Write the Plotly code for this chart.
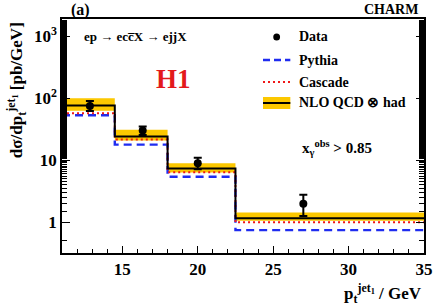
import plotly.graph_objects as go

# ---- data ----
bin_edges = [11.0, 14.5, 18.0, 22.5, 35.0]
data_x = [12.85, 16.35, 20.0, 27.0]
data_y = [75.0, 30.0, 8.9, 1.97]
data_err_up = [15.0, 5.0, 2.0, 0.8]
data_err_dn = [13.0, 4.5, 1.8, 0.72]
pythia = [53.0, 17.8, 5.4, 0.74]
cascade = [57.0, 21.5, 6.4, 0.99]
nlo = [76.0, 24.0, 7.3, 1.15]
nlo_up = [100.0, 31.0, 8.9, 1.42]
nlo_dn = [63.0, 20.7, 6.3, 1.05]
ytick_vals = [1, 10, 100, 1000]
ytick_text = ["1", "10", "10<sup>2</sup>", "10<sup>3</sup>"]
xtick_vals = [15, 20, 25, 30, 35]

FONT = "Liberation Serif"
BLUE_DASH = "8px,5px"
RED_DOT = "2px,3px"


def step(vals):
    return list(vals) + [vals[-1]]


fig = go.Figure()

# NLO uncertainty band
fig.add_trace(go.Scatter(x=bin_edges, y=step(nlo_dn), mode="lines", line=dict(width=0, shape="hv"),
                         showlegend=False, hoverinfo="skip"))
fig.add_trace(go.Scatter(x=bin_edges, y=step(nlo_up), mode="lines", line=dict(width=0, shape="hv"),
                         fill="tonexty", fillcolor="#fcc800", showlegend=False, hoverinfo="skip"))
# Pythia
fig.add_trace(go.Scatter(x=bin_edges, y=step(pythia), mode="lines",
                         line=dict(color="#1f2cf0", width=2.4, dash=BLUE_DASH, shape="hv"), showlegend=False))
# Cascade
fig.add_trace(go.Scatter(x=bin_edges, y=step(cascade), mode="lines",
                         line=dict(color="#f01818", width=2, dash=RED_DOT, shape="hv"), showlegend=False))
# NLO central
fig.add_trace(go.Scatter(x=bin_edges, y=step(nlo), mode="lines",
                         line=dict(color="black", width=2, shape="hv"), showlegend=False))
# Data
fig.add_trace(go.Scatter(x=data_x, y=data_y, mode="markers",
                         marker=dict(color="black", size=8),
                         error_y=dict(type="data", symmetric=False, array=data_err_up, arrayminus=data_err_dn,
                                      color="black", thickness=2, width=4),
                         showlegend=False))

L, R, T, B = 62, 433, 19, 253
W, H = 442, 307


def px(x):
    return (x - L) / (R - L)


def py(y):
    return (B - y) / (B - T)


tfont = dict(family=FONT, size=14, color="black", weight="bold")
ann = []
shapes = []

# legend
leg_rows = [("Data", 37), ("Pythia", 60), ("Cascade", 82), ("NLO QCD \u2297 had", 103)]
for label, yy in leg_rows:
    ann.append(dict(x=px(303), y=py(yy), xref="paper", yref="paper", text=label, showarrow=False,
                    xanchor="left", yanchor="middle", font=tfont))
# data marker in legend
shapes.append(dict(type="circle", xref="paper", yref="paper", x0=px(278.5), x1=px(285.5), y0=py(40.5), y1=py(33.5),
                   fillcolor="black", line=dict(width=0)))
shapes.append(dict(type="line", xref="paper", yref="paper", x0=px(268), x1=px(296), y0=py(60), y1=py(60),
                   line=dict(color="#1f2cf0", width=2.4, dash="7px,4px")))
shapes.append(dict(type="line", xref="paper", yref="paper", x0=px(268), x1=px(296), y0=py(82), y1=py(82),
                   line=dict(color="#f01818", width=2, dash=RED_DOT)))
shapes.append(dict(type="rect", xref="paper", yref="paper", x0=px(268), x1=px(296), y0=py(109), y1=py(97),
                   fillcolor="#fcc800", line=dict(width=0)))
shapes.append(dict(type="line", xref="paper", yref="paper", x0=px(268), x1=px(296), y0=py(103), y1=py(103),
                   line=dict(color="black", width=2)))

# texts
ann.append(dict(x=px(81), y=py(10), xref="paper", yref="paper", text="(a)", showarrow=False,
                xanchor="center", yanchor="middle", font=dict(family=FONT, size=16, color="black", weight="bold")))
ann.append(dict(x=px(429), y=py(10), xref="paper", yref="paper", text="CHARM", showarrow=False,
                xanchor="right", yanchor="middle", font=dict(family=FONT, size=14, color="black", weight="bold")))
ann.append(dict(x=px(82), y=py(37), xref="paper", yref="paper",
                text="ep \u2192 ecc\u0305X \u2192 ejjX", showarrow=False,
                xanchor="left", yanchor="middle", font=dict(family=FONT, size=13, color="black", weight="bold")))
ann.append(dict(x=px(176), y=py(79), xref="paper", yref="paper", text="H1", showarrow=False,
                xanchor="center", yanchor="middle", font=dict(family=FONT, size=27, color="#e3191c", weight="bold")))
ann.append(dict(x=px(306), y=py(148), xref="paper", yref="paper",
                text="x<sub>\u03b3</sub><sup>obs</sup> > 0.85", showarrow=False,
                xanchor="left", yanchor="middle", font=dict(family=FONT, size=15, color="black", weight="bold")))
# axis titles
ann.append(dict(x=px(433), y=py(293), xref="paper", yref="paper",
                text="p<sub>t</sub><sup>jet<sub>1</sub></sup> / GeV", showarrow=False,
                xanchor="right", yanchor="middle", font=dict(family=FONT, size=17, color="black", weight="bold")))
ann.append(dict(x=px(15), y=py(20), xref="paper", yref="paper",
                text="d\u03c3/dp<sub>t</sub><sup>jet<sub>1</sub></sup> [pb/GeV]", showarrow=False, textangle=-90,
                xanchor="center", yanchor="top", font=dict(family=FONT, size=17, color="black", weight="bold")))

fig.update_layout(
    width=W, height=H,
    margin=dict(l=L, r=W - R, t=T, b=H - B),
    paper_bgcolor="white", plot_bgcolor="white",
    annotations=ann, shapes=shapes,
    showlegend=False,
    xaxis=dict(range=[11, 35], tickvals=xtick_vals, ticks="inside", ticklen=7, tickwidth=1,
               tickcolor="black", showline=True, linecolor="black", linewidth=1.5, mirror=True,
               showgrid=False, zeroline=False,
               minor=dict(dtick=1, ticks="inside", ticklen=4, tickcolor="black", showgrid=False),
               tickfont=dict(family=FONT, size=17, color="black", weight="bold")),
    yaxis=dict(type="log", range=[-0.5, 3.28], tickvals=ytick_vals, ticktext=ytick_text,
               ticks="inside", ticklen=8, tickwidth=1, tickcolor="black",
               showline=True, linecolor="black", linewidth=1.5, mirror="ticks",
               showgrid=False, zeroline=False,
               minor=dict(ticks="inside", ticklen=5, tickcolor="black", showgrid=False),
               tickfont=dict(family=FONT, size=17, color="black", weight="bold")),
)

fig.write_html("out.html", config={"displayModeBar": False},
               post_script="document.body.style.margin='0px';")
